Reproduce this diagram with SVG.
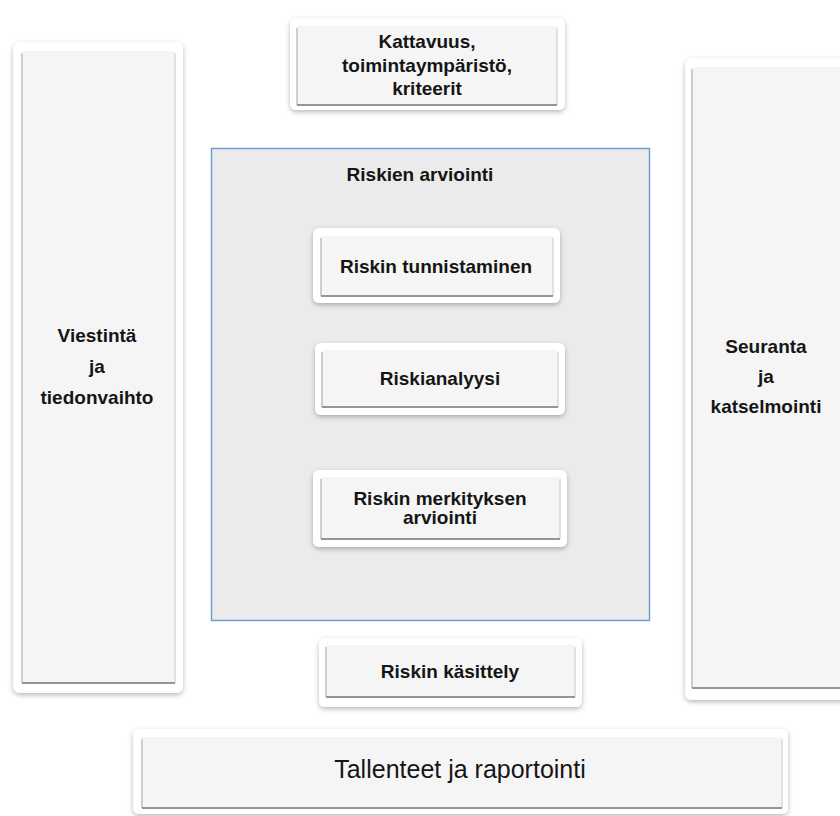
<svg xmlns="http://www.w3.org/2000/svg" width="840" height="816" viewBox="0 0 840 816">
  <defs>
    <filter id="sh" x="-10%" y="-10%" width="120%" height="120%">
      <feDropShadow dx="0" dy="2" stdDeviation="2.5" flood-color="#000" flood-opacity="0.28"/>
    </filter>
    <linearGradient id="bot" x1="0" y1="0" x2="0" y2="1">
      <stop offset="0" stop-color="#c8c8c8"/>
      <stop offset="1" stop-color="#8a8a8a"/>
    </linearGradient>
  </defs>
  <style>
    .outer { fill: #ffffff; filter: url(#sh); }
    .inner { fill: #f5f5f5; }
    .le { stroke: #cdcdcd; stroke-width: 2; }
    .re { stroke: #d9d9d9; stroke-width: 1.5; }
    .be { stroke: #959595; stroke-width: 2.2; }
    .t { font-family: "Liberation Sans", Arial, sans-serif; font-weight: bold; font-size: 19px; fill: #151515; text-anchor: middle; }
    .tr { font-family: "Liberation Sans", Arial, sans-serif; font-weight: normal; font-size: 25px; fill: #151515; text-anchor: middle; }
    .cont { fill: #ebebeb; stroke: #6d9fd6; stroke-width: 1.5; }
  </style>
  <rect width="840" height="816" fill="#ffffff"/>

  <g id="viestinta">
    <rect class="outer" x="13" y="42" width="170" height="651" rx="7"/>
    <rect class="inner" x="22" y="51" width="153" height="632"/>
    <line class="le" x1="22" y1="53" x2="22" y2="683"/>
    <line class="re" x1="175" y1="53" x2="175" y2="683"/>
    <line class="be" x1="22" y1="683" x2="175" y2="683"/>
    <text class="t" x="97" y="342">Viestintä</text>
    <text class="t" x="97" y="373">ja</text>
    <text class="t" x="97" y="404">tiedonvaihto</text>
  </g>

  <g id="kattavuus">
    <rect class="outer" x="290" y="18" width="275" height="92" rx="6"/>
    <rect class="inner" x="297" y="26" width="260" height="79"/>
    <line class="le" x1="297" y1="28" x2="297" y2="105"/>
    <line class="re" x1="557" y1="28" x2="557" y2="105"/>
    <line class="be" x1="297" y1="105" x2="557" y2="105"/>
    <text class="t" x="427" y="48">Kattavuus,</text>
    <text class="t" x="427" y="72">toimintaympäristö,</text>
    <text class="t" x="427" y="95">kriteerit</text>
  </g>

  <g id="seuranta">
    <rect class="outer" x="685" y="58" width="170" height="642" rx="7"/>
    <rect class="inner" x="692" y="67" width="160" height="621"/>
    <line class="le" x1="692" y1="69" x2="692" y2="688"/>
    <line class="be" x1="692" y1="688" x2="845" y2="688"/>
    <text class="t" x="766" y="353">Seuranta</text>
    <text class="t" x="766" y="383">ja</text>
    <text class="t" x="766" y="413">katselmointi</text>
  </g>

  <g id="riskien-arviointi">
    <rect class="cont" x="211.5" y="148.5" width="438" height="472"/>
    <text class="t" x="420" y="181">Riskien arviointi</text>
  </g>

  <g id="tunnistaminen">
    <rect class="outer" x="313" y="228" width="247" height="75" rx="6"/>
    <rect class="inner" x="321" y="236" width="232" height="60"/>
    <line class="le" x1="321" y1="238" x2="321" y2="296"/>
    <line class="re" x1="553" y1="238" x2="553" y2="296"/>
    <line class="be" x1="321" y1="296" x2="553" y2="296"/>
    <text class="t" x="436" y="273">Riskin tunnistaminen</text>
  </g>

  <g id="riskianalyysi">
    <rect class="outer" x="315" y="343" width="250" height="72" rx="6"/>
    <rect class="inner" x="322" y="350" width="236" height="57"/>
    <line class="le" x1="322" y1="352" x2="322" y2="407"/>
    <line class="re" x1="558" y1="352" x2="558" y2="407"/>
    <line class="be" x1="322" y1="407" x2="558" y2="407"/>
    <text class="t" x="440" y="385">Riskianalyysi</text>
  </g>

  <g id="merkitys">
    <rect class="outer" x="313" y="470" width="254" height="77" rx="6"/>
    <rect class="inner" x="321" y="477" width="239" height="62"/>
    <line class="le" x1="321" y1="479" x2="321" y2="539"/>
    <line class="re" x1="560" y1="479" x2="560" y2="539"/>
    <line class="be" x1="321" y1="539" x2="560" y2="539"/>
    <text class="t" x="440" y="505">Riskin merkityksen</text>
    <text class="t" x="440" y="524">arviointi</text>
  </g>

  <g id="kasittely">
    <rect class="outer" x="319" y="638" width="263" height="69" rx="6"/>
    <rect class="inner" x="326" y="645" width="249" height="52"/>
    <line class="le" x1="326" y1="647" x2="326" y2="697"/>
    <line class="re" x1="575" y1="647" x2="575" y2="697"/>
    <line class="be" x1="326" y1="697" x2="575" y2="697"/>
    <text class="t" x="450" y="678">Riskin käsittely</text>
  </g>

  <g id="tallenteet">
    <rect class="outer" x="133" y="729" width="655" height="85" rx="6"/>
    <rect class="inner" x="142" y="737" width="640" height="71"/>
    <line class="le" x1="142" y1="739" x2="142" y2="808"/>
    <line class="re" x1="782" y1="739" x2="782" y2="808"/>
    <line class="be" x1="142" y1="808" x2="782" y2="808"/>
    <text class="tr" x="460" y="778">Tallenteet ja raportointi</text>
  </g>

  <g id="connectors"></g>
</svg>
